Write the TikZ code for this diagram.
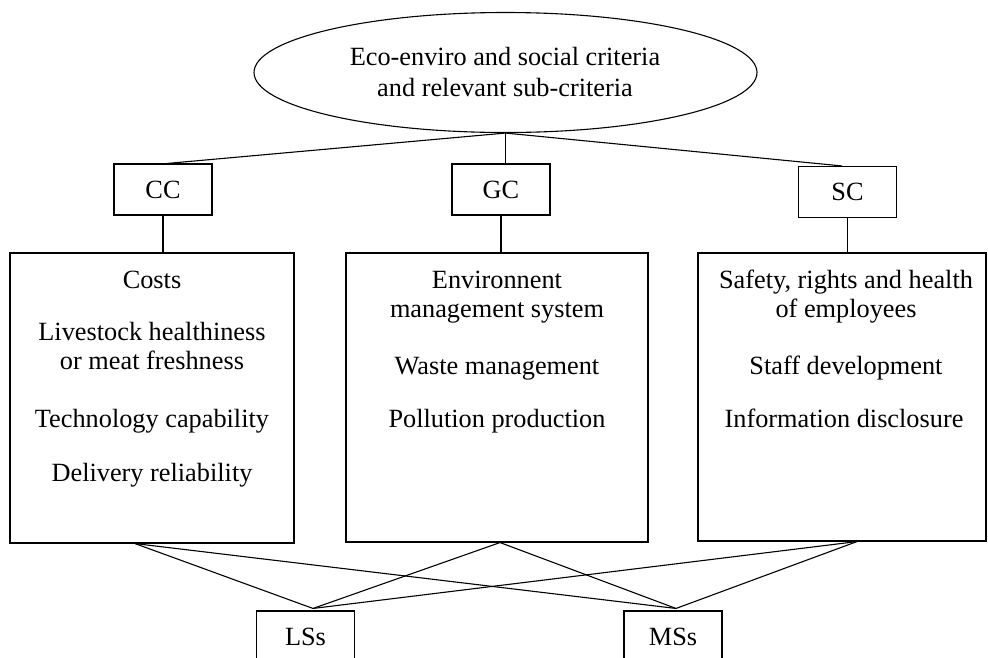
\documentclass[tikz,border=0pt]{standalone}
\usepackage{fontspec}
\setmainfont{Liberation Serif}
\usetikzlibrary{shapes.geometric}
\begin{document}
\begin{tikzpicture}[x=1pt,y=-1pt, line width=1.1pt,
  every node/.style={font=\fontsize{26.3}{30}\selectfont},
  smallbox/.style={draw, minimum width=98pt, minimum height=51pt, inner sep=0pt},
  bigbox/.style={draw, inner sep=0pt},
  txt/.style={anchor=base, inner sep=0pt}]
\useasboundingbox (0,0) rectangle (988,657);
% top ellipse
\node[draw, ellipse, minimum width=503pt, minimum height=120pt, inner sep=0pt] (top) at (505.5,72.5) {};
\node[txt] (t1) at (505,65) {Eco-enviro and social criteria};
\node[txt] (t2) at (505,96) {and relevant sub-criteria};
% criteria boxes
\node[smallbox] (CC) at (163,189.5) {CC};
\node[smallbox] (GC) at (501,189.5) {GC};
\node[smallbox] (SC) at (847.5,192) {SC};
% sub-criteria boxes
\node[bigbox, minimum width=284pt, minimum height=290pt] (L) at (152,398) {};
\node[bigbox, minimum width=302pt, minimum height=289pt] (M) at (497,397.5) {};
\node[bigbox, minimum width=288pt, minimum height=288pt] (R) at (842,397) {};
% left texts
\node[txt] (l1) at (152,288) {Costs};
\node[txt] (l2) at (152,340) {Livestock healthiness};
\node[txt] (l3) at (152,369) {or meat freshness};
\node[txt] (l4) at (152,427) {Technology capability};
\node[txt] (l5) at (152,481) {Delivery reliability};
% middle texts
\node[txt] (m1) at (497,288) {Environnent};
\node[txt] (m2) at (497,317) {management system};
\node[txt] (m3) at (497,374) {Waste management};
\node[txt] (m4) at (497,427) {Pollution production};
% right texts
\node[txt] (r1) at (846,288) {Safety, rights and health};
\node[txt] (r2) at (846,317) {of employees};
\node[txt] (r3) at (846,374) {Staff development};
\node[txt] (r4) at (844,427) {Information disclosure};
% alternatives
\node[smallbox] (LS) at (305.5,636.5) {LSs};
\node[smallbox] (MS) at (673,636.5) {MSs};
% connectors top
\draw (top.south) -- ([xshift=4pt]CC.north);
\draw (top.south) -- (top.south |- GC.north);
\draw (top.south) -- ([xshift=-5.5pt]SC.north);
\draw (CC.south) -- (CC.south |- L.north);
\draw (GC.south) -- (GC.south |- M.north);
\draw (SC.south) -- (SC.south |- R.north);
% connectors bottom
\coordinate (lb) at ([xshift=-17pt]L.south);
\coordinate (mb) at ([xshift=3pt]M.south);
\coordinate (rb) at ([xshift=15pt]R.south);
\coordinate (lst) at ([xshift=7.5pt,yshift=2pt]LS.north);
\coordinate (mst) at ([xshift=3pt,yshift=2pt]MS.north);
\draw (lb) -- (lst);
\draw (lb) -- (mst);
\draw (mb) -- (lst);
\draw (mb) -- (mst);
\draw (rb) -- (lst);
\draw (rb) -- (mst);
\end{tikzpicture}
\end{document}
